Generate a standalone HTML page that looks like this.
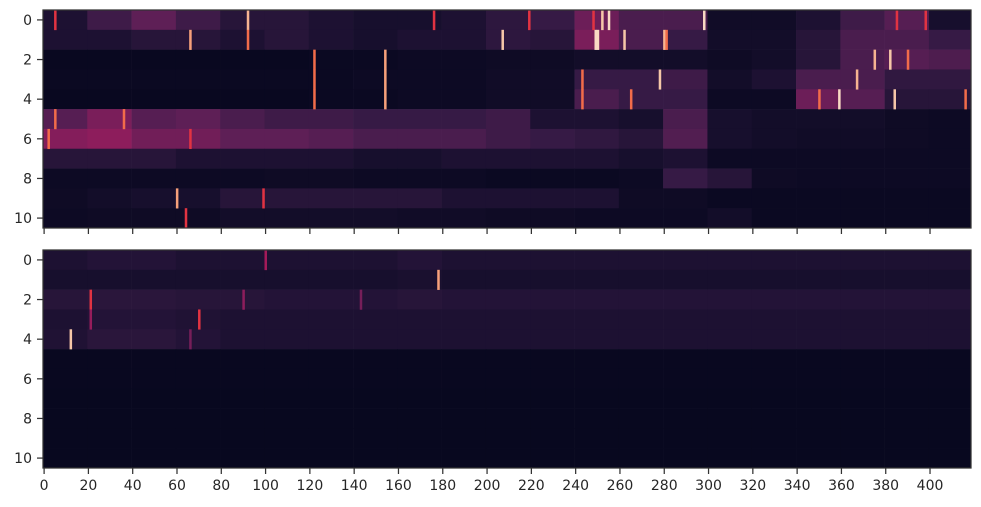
<!DOCTYPE html>
<html><head><meta charset="utf-8"><style>
html,body{margin:0;padding:0;background:#fff;}
svg{display:block;font-family:"DejaVu Sans","Liberation Sans",sans-serif;}
</style></head><body>
<svg id="chart" width="981" height="507" viewBox="0 0 981 507" xmlns="http://www.w3.org/2000/svg"></svg>
<script>
// ---- data (values 0..1, binned per 20 columns) ----
const nCols = 419;
const binSize = 20;
const rowLabels = [0,2,4,6,8,10];
const xTicks = [0,20,40,60,80,100,120,140,160,180,200,220,240,260,280,300,320,340,360,380,400];
const topBins = [
[0.12,0.22,0.3,0.22,0.15,0.15,0.12,0.1,0.1,0.12,0.17,0.2,0.33,0.25,0.25,0.07,0.07,0.12,0.22,0.28,0.1],
[0.12,0.12,0.15,0.15,0.12,0.15,0.12,0.1,0.12,0.12,0.17,0.15,0.36,0.25,0.2,0.08,0.08,0.15,0.25,0.25,0.2],
[0.03,0.03,0.03,0.03,0.03,0.03,0.04,0.04,0.05,0.05,0.06,0.06,0.08,0.08,0.08,0.06,0.08,0.15,0.25,0.28,0.26],
[0.04,0.04,0.04,0.04,0.04,0.04,0.04,0.05,0.05,0.05,0.07,0.07,0.2,0.2,0.22,0.08,0.12,0.25,0.25,0.18,0.18],
[0.03,0.03,0.03,0.03,0.03,0.03,0.04,0.04,0.05,0.05,0.07,0.07,0.25,0.2,0.2,0.05,0.05,0.33,0.28,0.15,0.15],
[0.28,0.36,0.28,0.3,0.25,0.22,0.22,0.2,0.2,0.2,0.22,0.12,0.12,0.1,0.25,0.1,0.08,0.08,0.08,0.06,0.05],
[0.38,0.4,0.34,0.34,0.3,0.3,0.28,0.25,0.25,0.25,0.22,0.2,0.18,0.15,0.27,0.1,0.08,0.07,0.07,0.06,0.05],
[0.15,0.15,0.15,0.12,0.12,0.12,0.12,0.1,0.1,0.12,0.12,0.12,0.12,0.1,0.12,0.05,0.05,0.05,0.05,0.05,0.05],
[0.05,0.05,0.05,0.05,0.05,0.06,0.06,0.05,0.05,0.05,0.04,0.04,0.04,0.05,0.2,0.15,0.06,0.05,0.05,0.05,0.05],
[0.06,0.08,0.1,0.1,0.15,0.15,0.15,0.15,0.15,0.12,0.12,0.12,0.12,0.06,0.06,0.04,0.04,0.04,0.04,0.04,0.04],
[0.05,0.06,0.06,0.06,0.08,0.08,0.08,0.08,0.07,0.07,0.06,0.06,0.05,0.05,0.05,0.08,0.04,0.04,0.04,0.04,0.04]
];
const topSpikes = [
[0,5,0.6],[0,92,0.85],[0,176,0.6],[0,219,0.6],[0,248,0.6],[0,252,0.9],[0,255,0.95],[0,298,0.95],[0,385,0.6],[0,398,0.6],
[1,66,0.8],[1,92,0.7],[1,207,0.9],[1,249,0.95],[1,250,0.95],[1,262,0.9],[1,280,0.85],[1,281,0.7],
[2,122,0.7],[3,122,0.7],[4,122,0.7],[2,154,0.8],[3,154,0.8],[4,154,0.8],
[2,375,0.85],[2,382,0.9],[2,390,0.7],[3,367,0.85],[4,350,0.7],[4,359,0.95],[4,384,0.9],[4,416,0.7],
[3,243,0.7],[4,243,0.7],[3,278,0.9],[4,265,0.7],[5,36,0.7],[5,5,0.7],[6,2,0.7],[6,66,0.6],
[9,60,0.8],[9,99,0.6],[10,64,0.6]
];
const botBins = [
[0.12,0.14,0.14,0.12,0.12,0.12,0.12,0.12,0.14,0.12,0.12,0.12,0.12,0.12,0.12,0.12,0.12,0.12,0.12,0.12,0.12],
[0.1,0.1,0.1,0.1,0.1,0.1,0.1,0.1,0.11,0.1,0.1,0.1,0.1,0.1,0.1,0.1,0.1,0.1,0.1,0.1,0.1],
[0.15,0.16,0.16,0.15,0.15,0.14,0.14,0.14,0.15,0.14,0.14,0.14,0.14,0.14,0.14,0.14,0.14,0.14,0.14,0.14,0.14],
[0.12,0.14,0.14,0.13,0.12,0.12,0.12,0.12,0.12,0.12,0.12,0.12,0.12,0.12,0.12,0.12,0.12,0.12,0.12,0.12,0.12],
[0.13,0.16,0.16,0.14,0.12,0.12,0.12,0.12,0.12,0.12,0.12,0.12,0.12,0.12,0.12,0.12,0.12,0.12,0.12,0.12,0.12],
[0.03,0.03,0.03,0.03,0.03,0.03,0.03,0.03,0.03,0.03,0.03,0.03,0.03,0.03,0.03,0.03,0.03,0.03,0.03,0.03,0.03],
[0.03,0.03,0.03,0.03,0.03,0.03,0.03,0.03,0.03,0.03,0.03,0.03,0.03,0.03,0.03,0.03,0.03,0.03,0.03,0.03,0.03],
[0.025,0.025,0.025,0.025,0.025,0.025,0.025,0.025,0.025,0.025,0.025,0.025,0.025,0.025,0.025,0.025,0.025,0.025,0.025,0.025,0.025],
[0.025,0.025,0.025,0.025,0.025,0.025,0.025,0.025,0.025,0.025,0.025,0.025,0.025,0.025,0.025,0.025,0.025,0.025,0.025,0.025,0.025],
[0.025,0.025,0.025,0.025,0.025,0.025,0.025,0.025,0.025,0.025,0.025,0.025,0.025,0.025,0.025,0.025,0.025,0.025,0.025,0.025,0.025],
[0.025,0.025,0.025,0.025,0.025,0.025,0.025,0.025,0.025,0.025,0.025,0.025,0.025,0.025,0.025,0.025,0.025,0.025,0.025,0.025,0.025]
];
const botSpikes = [[1,178,0.8],[4,12,0.9],[2,21,0.6],[3,70,0.6],[0,100,0.45],[2,90,0.4],[3,21,0.42],[4,66,0.35],[2,143,0.35]];

// ---- rendering ----
const NS = "http://www.w3.org/2000/svg";
const svg = document.getElementById("chart");
const stops = ["#03051a","#170f2d","#361a45","#5e1f56","#8d1d5c","#bb1756","#e13342","#f26c4a","#f6a07a","#f7c7a8","#faebdd"];
function hex(h){return [1,3,5].map(i=>parseInt(h.substr(i,2),16));}
function cmap(v){v=Math.max(0,Math.min(1,v))*10;const i=Math.min(9,Math.floor(v)),t=v-i;const a=hex(stops[i]),b=hex(stops[i+1]);return "rgb("+a.map((c,k)=>Math.round(c+(b[k]-c)*t)).join(",")+")";}
function mk(tag,attrs,parent){const e=document.createElementNS(NS,tag);for(const k in attrs)e.setAttribute(k,attrs[k]);(parent||svg).appendChild(e);return e;}
const L=43,R=971,W=R-L,cw=W/nCols;
function xs(c){return L+c*cw;}
function drawPanel(top,bins,spikes,name,showX){
  const H=218,rh=H/11;
  const g=mk("g",{});
  
  
  const ys=r=>top+r*rh;
  bins.forEach((row,r)=>row.forEach((v,b)=>{
    const c0=b*binSize,c1=Math.min(nCols,c0+binSize);
    const el=mk("rect",{x:xs(c0),y:ys(r),width:xs(c1)-xs(c0)+0.3,height:rh+0.3,fill:cmap(v)},g);
    
    
  }));
  spikes.forEach(s=>{
    const el=mk("rect",{x:xs(s[1]),y:ys(s[0]),width:cw+0.3,height:rh+0.3,fill:cmap(s[2])},g);
    
    
  });
  const fr=mk("rect",{x:L,y:top,width:W,height:H,fill:"none",stroke:"#333",'stroke-width':1.25});
  
  
  rowLabels.forEach(r=>{
    const y=ys(r)+rh/2;
    mk("line",{x1:L-6,x2:L,y1:y,y2:y,stroke:"#333",'stroke-width':1.25});
    const t=mk("text",{x:L-11,y:y+5,'text-anchor':'end','font-size':14,fill:"#262626"});
    t.textContent=r;
    
    
  });
  xTicks.forEach(c=>{
    const x=xs(c)+cw/2;
    mk("line",{x1:x,x2:x,y1:top+H,y2:top+H+6,stroke:"#333",'stroke-width':1.25});
    if(showX){
      const t=mk("text",{x:x,y:top+H+22,'text-anchor':'middle','font-size':14,fill:"#262626"});
      t.textContent=c;
      
      
    }
  });
}
drawPanel(10,topBins,topSpikes,"top-heatmap",false);
drawPanel(250,botBins,botSpikes,"bottom-heatmap",true);
</script>
</body></html>
